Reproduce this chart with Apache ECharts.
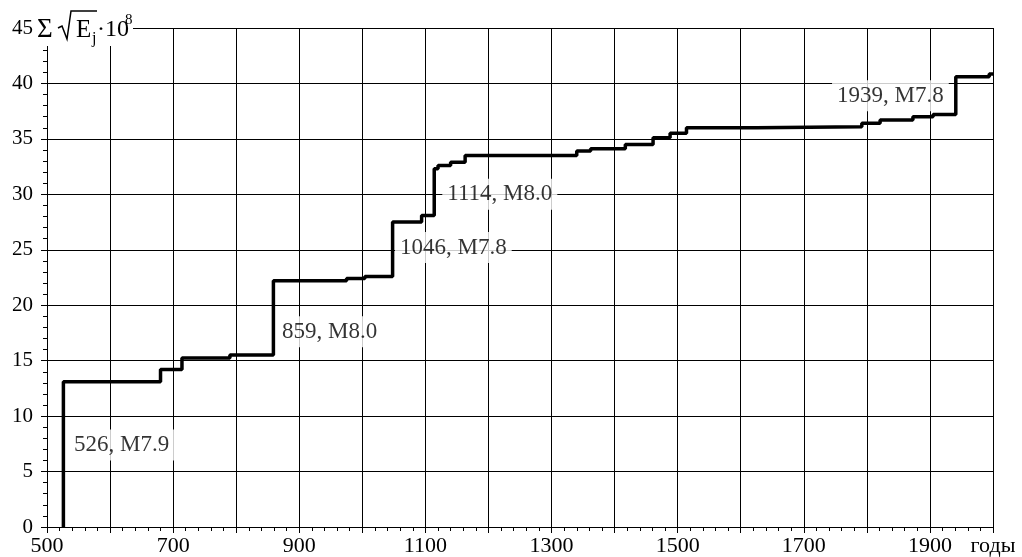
<!DOCTYPE html>
<html lang="ru">
<head>
<meta charset="UTF-8">
<title>Сумма корней из энергии землетрясений</title>
<script src="https://cdn.jsdelivr.net/npm/echarts@6/dist/echarts.min.js"></script>
<style>
  html, body { margin: 0; padding: 0; background: #fff; }
  #chart { width: 1022px; height: 557px; }
</style>
</head>
<body>
<div id="chart"></div>
<script>
// годы событий и накопленная сумма (x10^8), ступенчатая кривая
var years  = [526, 526,  680,  714,   790,  859,  975, 1004, 1048, 1094, 1114, 1120, 1140, 1163, 1340, 1362, 1417, 1461, 1488, 1514, 1625, 1792, 1821, 1873, 1905, 1941, 1994, 2000];
var sums   = [0,   13.1, 14.2, 15.25, 15.5, 22.2, 22.4, 22.6, 27.5, 28.1, 32.3, 32.6, 32.9, 33.5, 33.9, 34.1, 34.5, 35.1, 35.5, 36.0, 36.1, 36.4, 36.7, 37.0, 37.2, 40.6, 40.85, 40.85];

// подписи крупных землетрясений
var noteText = ['526, M7.9', '859, M8.0', '1046, M7.8', '1114, M8.0', '1939, M7.8'];
var noteX    = [534, 864, 1051, 1126, 1744];
var noteY    = [7.4, 17.6, 25.2, 30.0, 38.9];

var xTicks = [500, 700, 900, 1100, 1300, 1500, 1700, 1900];

var serif = "'Liberation Serif', 'Times New Roman', serif";

var chart = echarts.init(document.getElementById('chart'));

var lineData = [];
for (var i = 0; i < years.length; i++) {
  lineData.push([years[i], sums[i]]);
}
var noteData = [];
for (var k = 0; k < noteText.length; k++) {
  noteData.push({value: [noteX[k], noteY[k]], name: noteText[k]});
}

var option = {
  backgroundColor: '#fff',
  animation: false,
  grid: { left: 47, right: 29, top: 28, bottom: 30 },
  xAxis: {
    type: 'value',
    min: 500,
    max: 2000,
    interval: 100,
    axisLine: { lineStyle: { color: '#000', width: 1 } },
    axisTick: { length: 6, lineStyle: { color: '#000' } },
    minorTick: { show: true, splitNumber: 5, length: 4, lineStyle: { color: '#000' } },
    splitLine: { show: true, lineStyle: { color: '#000', width: 1 } },
    axisLabel: {
      color: '#000',
      fontFamily: serif,
      fontSize: 22,
      margin: 8,
      showMaxLabel: true,
      formatter: function (v) {
        if (v === 2000) return 'годы';
        return xTicks.indexOf(v) >= 0 ? String(v) : '';
      }
    }
  },
  yAxis: {
    type: 'value',
    min: 0,
    max: 45,
    interval: 5,
    axisLine: { show: true, lineStyle: { color: '#000', width: 1 } },
    axisTick: { show: true, length: 6, lineStyle: { color: '#000' } },
    minorTick: { show: true, splitNumber: 5, length: 4, lineStyle: { color: '#000' } },
    splitLine: { show: true, lineStyle: { color: '#000', width: 1 } },
    axisLabel: { color: '#000', fontFamily: serif, fontSize: 21, margin: 14 }
  },
  series: [
    {
      type: 'scatter',
      z: 1,
      symbolSize: 1,
      itemStyle: { color: 'rgba(0,0,0,0)' },
      data: noteData,
      label: {
        show: true,
        position: 'right',
        distance: 0,
        formatter: '{b}',
        color: '#000',
        fontFamily: serif,
        fontSize: 23,
        backgroundColor: '#fff',
        padding: [4, 5]
      }
    },
    {
      type: 'line',
      z: 3,
      step: 'end',
      symbol: 'none',
      lineStyle: { color: '#000', width: 3.5 },
      data: lineData
    }
  ],
  // подпись оси Y: Σ√Ej·10^8
  graphic: [
    { type: 'rect', shape: { x: 35, y: 4, width: 98, height: 42 }, style: { fill: '#fff' }, z: 10 },
    { type: 'text', x: 37, y: 30, z: 11, style: { text: 'Σ', fontFamily: serif, fontSize: 27, fill: '#000', verticalAlign: 'middle' } },
    { type: 'polyline', z: 11, shape: { points: [[58, 28], [62, 26], [67, 39], [71, 11], [97, 11]] }, style: { stroke: '#000', lineWidth: 1.5, fill: null } },
    { type: 'text', x: 76, y: 30, z: 11, style: { text: 'E', fontFamily: serif, fontSize: 25, fill: '#000', verticalAlign: 'middle' } },
    { type: 'text', x: 92, y: 39, z: 11, style: { text: 'j', fontFamily: serif, fontSize: 16, fill: '#000', verticalAlign: 'middle' } },
    { type: 'text', x: 97, y: 30, z: 11, style: { text: '·10', fontFamily: serif, fontSize: 24, fill: '#000', verticalAlign: 'middle' } },
    { type: 'text', x: 125, y: 20, z: 11, style: { text: '8', fontFamily: serif, fontSize: 15, fill: '#000', verticalAlign: 'middle' } }
  ]
};

chart.setOption(option);
</script>
</body>
</html>
